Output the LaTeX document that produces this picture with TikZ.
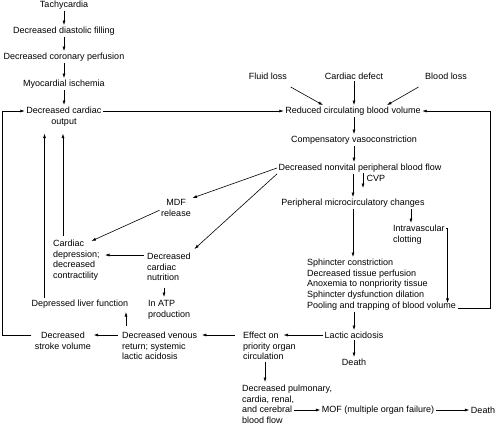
\documentclass[tikz,border=0pt]{standalone}
\usepackage{fontspec}
\setmainfont{Liberation Sans}
\usetikzlibrary{arrows.meta,calc}
\tikzset{
  txt/.style={inner sep=1.5pt,font=\fontsize{9}{10.8}\selectfont},
  blk/.style={txt,align=left,anchor=north west},
  cblk/.style={txt,align=center,anchor=north},
  arr/.style={line width=0.6pt,-{Latex[length=4.5pt,width=3pt]}},
  ln/.style={line width=0.6pt}
}
\begin{document}
\begin{tikzpicture}[x=1pt,y=-1pt]
\useasboundingbox (0,0) rectangle (500,424);
% left column top
\node[txt] (tachy) at (64,5) {Tachycardia};
\node[txt] (dfill) at (64,31) {Decreased diastolic filling};
\node[txt] (cperf) at (64,57) {Decreased coronary perfusion};
\node[txt] (mis) at (64,84) {Myocardial ischemia};
\node[cblk] (dco) at (64,105) {Decreased cardiac\\output};
% right column
\node[txt] (fluid) at (268,76) {Fluid loss};
\node[txt] (cdef) at (354,76) {Cardiac defect};
\node[txt] (bloss) at (446,76) {Blood loss};
\node[txt] (rcbv) at (353,111) {Reduced circulating blood volume};
\node[txt] (cvaso) at (354,140) {Compensatory vasoconstriction};
\node[txt] (dnv) at (360,168) {Decreased nonvital peripheral blood flow};
\node[txt,anchor=west] (cvp) at (365,178) {CVP};
\node[txt] (pmc) at (353,203) {Peripheral microcirculatory changes};
\node[blk] (ivc) at (391.5,223) {Intravascular\\clotting};
\node[blk] (sph) at (305.5,257) {Sphincter constriction\\Decreased tissue perfusion\\Anoxemia to nonpriority tissue\\Sphincter dysfunction dilation\\Pooling and trapping of blood volume};
\node[txt] (lac) at (354,335) {Lactic acidosis};
\node[txt] (death1) at (354,362) {Death};
\node[blk] (eff) at (241.5,330) {Effect on\\priority organ\\circulation};
\node[blk] (dpul) at (240.5,383) {Decreased pulmonary,\\cardia, renal,\\and cerebral\\blood flow};
\node[txt] (mof) at (378,410) {MOF (multiple organ failure)};
\node[txt] (death2) at (483,410) {Death};
% left lower part
\node[blk] (dvr) at (120.5,330) {Decreased venous\\return; systemic\\lactic acidosis};
\node[cblk] (dsv) at (63,330) {Decreased\\stroke volume};
\node[txt] (dlf) at (80,304) {Depressed liver function};
\node[blk] (atp) at (146.5,299) {In ATP\\production};
\node[blk] (dcn) at (145.5,251) {Decreased\\cardiac\\nutrition};
\node[blk] (cdep) at (51.5,238) {Cardiac\\depression;\\decreased\\contractility};
\node[cblk] (mdf) at (176,198) {MDF\\release};
% helper coordinates
\coordinate (dcob) at ($(dco.south)+(0,6)$);
\coordinate (dlfup) at ($(dlf.north west)+(14.5,0)$);
\coordinate (cdepup) at ($(cdep.north west)+(11.5,-2)$);
% connectors: left top chain
\draw[arr] (tachy) -- (dfill);
\draw[arr] (dfill) -- (cperf);
\draw[arr] (cperf) -- (mis);
\draw[arr] (mis) -- (dco);
\draw[arr] (dco.east |- rcbv) -- (rcbv.west);
% into reduced circulating blood volume
\draw[arr] ($(fluid.south east)+(2,6)$) -- ($(rcbv.north)+(-30,0)$);
\draw[arr] (cdef.south) -- (cdef.south |- rcbv.north);
\draw[arr] ($(bloss.south west)+(-5,6)$) -- ($(rcbv.north)+(34,0)$);
\draw[arr] (rcbv.south -| cvaso.north) -- (cvaso.north);
\draw[arr] (cvaso.south) -- (cvaso.south |- dnv.north);
\draw[arr] (pmc.north |- dnv.south) -- (pmc.north);
\draw[arr] ($(cvp.west)+(-2,-5)$) -- ($(cvp.west)+(-2,10)$);
\draw[arr] ([xshift=-8pt]ivc.north |- pmc.south) -- ([xshift=-8pt]ivc.north);
\draw[arr] ($(ivc.north east)+(0,5)$) -| ($(sph.south east)+(-10,-9)$);
\draw[arr] ($(sph.south east)+(0,-4)$) -- ++(33,0) |- (rcbv.east);
\draw[arr] (pmc.south) -- (pmc.south |- sph.north);
\draw[arr] (lac.north |- sph.south) -- (lac.north);
\draw[arr] (lac) -- (death1);
\draw[arr] (lac.west) -- ($(eff.north west)+(42,5)$);
\draw[arr] ($(eff.south west)+(23.5,0)$) -- ($(dpul.north west)+(24.5,-1)$);
\draw[arr] ($(dpul.north west)+(53,27)$) -- (mof.west);
\draw[arr] (mof) -- (death2);
\draw[arr] ($(eff.north west)+(-7,5)$) -- ($(dvr.north east)+(3,5)$);
\draw[arr] ($(dvr.north west)+(-3,5)$) -- ($(dsv.north east)+(1,5)$);
\draw[arr] ($(dsv.north west)+(-2,5)$) -| ($(dco.west |- rcbv)+(-22,0)$) -- (dco.west |- rcbv);
\draw[arr] ($(dvr.north west)+(5.5,-4)$) -- ($(dvr.north west)+(5.5,-18)$);
\draw[arr] (dlfup) -- (dlfup |- dcob);
\draw[arr] (cdepup) -- (cdepup |- dcob);
\draw[arr] ($(mdf.west)+(0,2)$) -- ($(cdep.north west)+(40,3)$);
\draw[arr] (dnv.west) -- (mdf.north east);
\draw[arr] (dnv.south west) -- ($(dcn.north east)+(2,-2)$);
\draw[arr] ($(dcn.north west)+(-2,4)$) -- ($(cdep.north west)+(53.5,17)$);
\draw[arr] ($(dcn.south west)+(18.5,5)$) -- ($(atp.north west)+(17.5,-2)$);
\end{tikzpicture}
\end{document}
